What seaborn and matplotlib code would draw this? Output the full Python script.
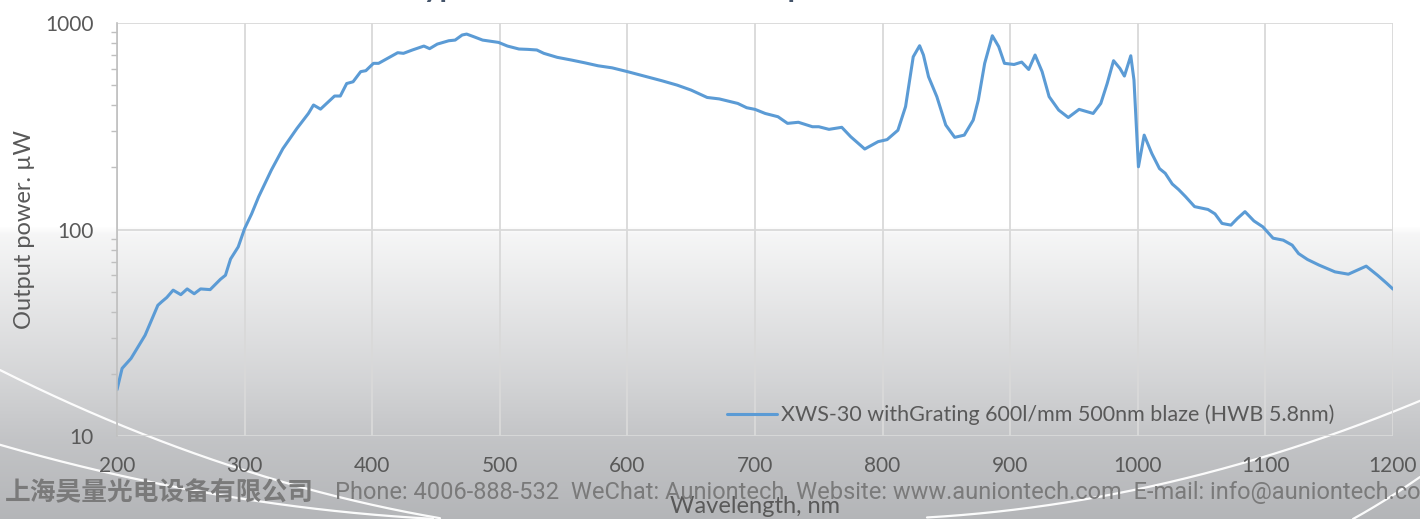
import numpy as np
import matplotlib
matplotlib.use("Agg")
import matplotlib.pyplot as plt
from matplotlib.ticker import LogLocator, NullFormatter, FixedLocator
import seaborn as sns

# spectrum (nm, uW)
wavelength = [200, 204, 211, 222, 232, 235, 239, 244, 250, 255, 260.5, 265.5, 273, 281, 285,
              289, 295, 300, 305.5, 311, 321, 330, 341, 350, 354, 359.5, 370.5, 375, 380, 385,
              391, 395, 401, 405, 412, 420, 424.5, 431.5, 440.5, 445, 451, 460, 465, 470.5, 474,
              479.5, 486.5, 499, 506, 515, 522, 529, 534.5, 545, 556, 566.5, 577, 588, 600, 613,
              627, 639, 650, 662.5, 672, 686.5, 693.5, 700, 708, 718, 725.5, 734, 745, 750, 758,
              768, 775, 786, 796.5, 803.5, 812, 818, 824, 829, 832, 836, 842.5, 849.5, 856.5, 864,
              871, 875, 880, 886, 891, 895.5, 903, 909, 914.5, 919.5, 925, 930.5, 938, 945.5, 954,
              965, 971, 976, 981, 986, 989.5, 994.5, 997, 1000.5, 1005, 1011, 1017, 1021.5, 1027,
              1032, 1037.5, 1044.5, 1055, 1060.5, 1066, 1073, 1078, 1084, 1091, 1098, 1106, 1114,
              1121, 1126, 1133, 1142, 1154.5, 1165, 1179, 1188, 1195, 1200]
power = [16.8, 21.3, 23.8, 30.8, 43, 44.7, 46.9, 50.9, 48.4, 51.6, 48.9, 51.6, 51.2, 57.4, 60.1,
         72, 82.4, 101, 119, 144, 194, 246, 308, 364, 400, 382, 442, 442, 508, 518,
         580, 586, 636, 636, 672, 716, 711, 738, 771, 749, 788, 818, 824, 872, 881,
         856, 824, 803, 771, 746, 743, 738, 711, 680, 660, 640, 619, 605, 580, 552,
         524, 499, 472, 435, 428, 407, 388, 381, 364, 351, 326, 330, 314, 314, 305,
         312, 281, 245, 266, 272, 302, 393, 684, 774, 698, 548, 439, 320, 279, 286,
         338, 422, 636, 865, 766, 636, 628, 645, 594, 698, 580, 439, 378, 348, 381,
         364, 407, 508, 655, 601, 552, 692, 528, 201, 286, 233, 197, 187, 166,
         156, 144, 129, 125, 119, 107, 105, 113, 122, 110, 103, 90.8, 88.8,
         84, 76.5, 71.6, 67.3, 62.4, 60.8, 66.5, 60, 55, 51.5]

series_label = "XWS-30 withGrating 600l/mm 500nm blaze (HWB 5.8nm)"
x_ticks = [200, 300, 400, 500, 600, 700, 800, 900, 1000, 1100, 1200]
y_ticks = [10, 100, 1000]
title_text = "Typical XWS-30 Source Output"
footer_cn = "上海昊量光电设备有限公司"
footer_en = "Phone: 4006-888-532  WeChat: Auniontech  Website: www.auniontech.com  E-mail: info@auniontech.com"

sns.set_style("white")
plt.rcParams['font.family'] = ['Lato', 'DejaVu Sans']

W, H = 1420, 519
fig = plt.figure(figsize=(W / 100, H / 100), dpi=100)

# slide-like background: white top, grey gradient lower part
bg = fig.add_axes([0, 0, 1, 1], zorder=-5)
py = np.arange(H)
lvl = np.interp(py, [0, 226, 234, 300, 380, 440, 519], [255, 255, 246, 232, 214, 198, 184])
grad = np.stack([lvl - 0.06 * (255 - lvl), lvl - 0.04 * (255 - lvl), lvl], axis=-1) / 255.0
bg.imshow(grad[:, None, :], aspect="auto", extent=[0, W, H, 0])
# decorative white arcs
arcs = [
    [(0, 370), (117, 423), (245, 473), (330, 492), (440, 519)],
    [(0, 445), (100, 470), (200, 493), (300, 506), (433, 519)],
    [(927, 519), (1100, 492), (1233, 468), (1333, 438), (1420, 398)],
    [(1353, 519), (1390, 497), (1420, 477)],
]
for pts in arcs:
    px_, py_ = np.array(pts).T
    c = np.polyfit(px_, py_, 2)
    xs = np.linspace(px_.min(), px_.max(), 200)
    bg.plot(xs, np.polyval(c, xs), color="white", lw=1.6, alpha=0.95)
bg.set_xlim(0, W)
bg.set_ylim(H, 0)
bg.axis("off")

ax = fig.add_axes([117 / W, 1 - 436.3 / H, (1393 - 117) / W, (436.3 - 22.7) / H])
ax.set_facecolor("none")

sns.lineplot(x=wavelength, y=power, ax=ax, color="#5B9BD5", linewidth=2.2,
             estimator=None, sort=False, label=series_label)

ax.set_yscale("log")
ax.set_xlim(200, 1200)
ax.set_ylim(10, 1000)
ax.xaxis.set_major_locator(FixedLocator(x_ticks))
ax.yaxis.set_major_locator(FixedLocator(y_ticks))
ax.yaxis.set_minor_locator(LogLocator(base=10, subs=np.arange(2, 10)))
ax.yaxis.set_minor_formatter(NullFormatter())
ax.set_yticklabels([str(v) for v in y_ticks])

ax.grid(True, which="major", color="#D9D9D9", linewidth=1.3)
ax.set_axisbelow(True)
for s in ["top", "right", "bottom"]:
    ax.spines[s].set_visible(False)
ax.spines["left"].set_color("#BFBFBF")
ax.spines["left"].set_linewidth(1.2)

ax.tick_params(axis="x", length=0, pad=14, labelsize=15, labelcolor="#595959")
ax.tick_params(axis="y", which="major", length=5, width=1.1, color="#BFBFBF",
               pad=12, labelsize=15, labelcolor="#595959")
ax.tick_params(axis="y", which="minor", length=4, width=1.0, color="#BFBFBF", left=True)

ax.set_xlabel("Wavelength, nm", fontsize=17, color="#595959")
ax.set_ylabel("Output power. µW", fontsize=17, color="#595959")
ax.xaxis.set_label_coords(0.5, -0.145)
ax.yaxis.set_label_coords(-0.064, 0.5)

leg = ax.legend(loc="center left", bbox_to_anchor=((727 - 117) / 1276, (436.3 - 415) / 413.6),
                frameon=False, fontsize=15.5, handlelength=2.3, handletextpad=0.2,
                borderaxespad=0, borderpad=0)
for t in leg.get_texts():
    t.set_color("#595959")

# title, almost entirely above the visible area
fig.text(405 / W, 1 + 3 / H, title_text, ha="left", va="baseline",
         fontsize=22, fontweight="bold", color="#44546A")

# watermark footer
fig.text(5 / W, 1 - 492 / H, footer_cn, ha="left", va="center", fontsize=18.5,
         fontweight="bold", color="#7a7a7a", family=["Noto Sans CJK SC", "DejaVu Sans"], zorder=1)
fig.text(335 / W, 1 - 493 / H, footer_en, ha="left", va="center", fontsize=17,
         color="#7a7a7a", family=["Roboto", "DejaVu Sans"], zorder=1)

fig.savefig("out.png", dpi=100)
plt.close(fig)
